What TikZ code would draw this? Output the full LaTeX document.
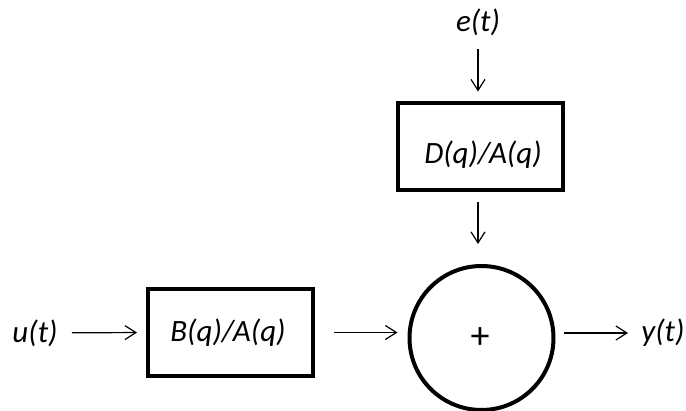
\documentclass[tikz,border=0pt]{standalone}
\usepackage{fontspec}
\setmainfont{Carlito}
\usetikzlibrary{arrows.meta}
\begin{document}
\begin{tikzpicture}[x=1pt,y=-1pt,
  box/.style={draw,line width=4pt,minimum width=165pt,minimum height=87pt,inner sep=0pt},
  sum/.style={draw,circle,line width=4pt,minimum size=144pt,inner sep=0pt},
  lbl/.style={inner sep=0pt,font=\fontsize{31}{33}\selectfont\itshape},
  arr/.style={line width=1.2pt,-{Straight Barb[length=11pt,width=14pt,line width=1.2pt]}}]
\useasboundingbox (0,0) rectangle (686,411);
\node[lbl] (e) at (478,22) {e(t)};
\node[box] (D) at (480.5,147) {};
\node[lbl] (Dl) at (483,155) {D(q)/A(q)};
\node[sum] (S) at (481.5,338) {};
\node[inner sep=0pt,font=\fontsize{38}{40}\selectfont] (plus) at (480,338) {+};
\node[box] (B) at (230.5,332.5) {};
\node[lbl] (Bl) at (228,333) {B(q)/A(q)};
\node[lbl] (u) at (35,333) {u(t)};
\node[lbl] (y) at (663,333) {y(t)};
\draw[arr,shorten <=27pt,shorten >=10pt] (e.center) -- (e.center |- D.north);
\draw[arr,shorten <=10pt,shorten >=20pt] (e.center |- D.south) -- (e.center |- S.north);
\draw[arr,shorten <=37pt,shorten >=9pt] (u.center) -- (B.west);
\draw[arr,shorten <=19pt,shorten >=10pt] (B.east) -- (B.east -| S.west);
\draw[arr,shorten <=8pt,shorten >=35pt] (S.east |- y.center) -- (y.center);
\end{tikzpicture}
\end{document}
